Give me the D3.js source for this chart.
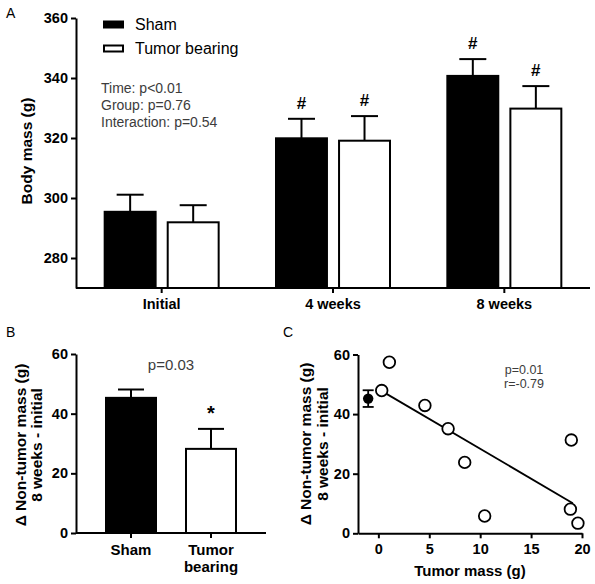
<!DOCTYPE html>
<html><head><meta charset="utf-8">
<script src="https://cdn.jsdelivr.net/npm/d3@7"></script>
<style>body{margin:0;background:#fff} svg{display:block;font-family:"Liberation Sans",Arial,sans-serif}</style>
</head><body><svg id="c" width="595" height="584"></svg>
<script>
// ---------- Data ----------
const timepoints = ["Initial", "4 weeks", "8 weeks"];
const groups = ["Sham", "Tumor bearing"];
const shamMass = [295.4, 319.9, 340.7];
const shamSEM = [5.7, 6.5, 5.6];
const tumorMass = [291.9, 319.1, 329.8];
const tumorSEM = [5.7, 8.2, 7.5];
const shamSig = ["", "#", "#"];
const tumorSig = ["", "#", "#"];
const massTicks = [280, 300, 320, 340, 360];
const statsLines = ["Time: p<0.01", "Group: p=0.76", "Interaction: p=0.54"];

const deltaGroups = ["Sham", "Tumor bearing"];
const deltaMean = [45.3, 28.2];
const deltaSEM = [2.8, 6.7];
const deltaSig = ["", "*"];
const deltaTicks = [0, 20, 40, 60];
const deltaP = "p=0.03";

const tumorMassX = [0.33, 1.08, 4.57, 6.85, 8.48, 10.44, 18.95, 18.86, 19.6];
const tumorDeltaY = [47.9, 57.4, 42.9, 35.1, 23.8, 5.8, 31.3, 8.1, 3.4];
const shamPointX = [-1];
const shamPointY = [45.2];
const shamPointSEM = [2.8];
const fitX = [0.3, 19.1];
const fitY = [47.8, 10.1];
const scatterXTicks = [0, 5, 10, 15, 20];
const scatterStats = ["p=0.01", "r=-0.79"];

// ---------- Setup ----------
const svg = d3.select("#c");
const FONT = "Liberation Sans, Arial, sans-serif";
const GRAY = "#3c3c3c";

function styleAxis(g, size) {
  g.attr("font-family", FONT).attr("font-size", size).attr("font-weight", "bold");
  g.select(".domain").attr("stroke", "#000").attr("stroke-width", 2);
  g.selectAll(".tick line").attr("stroke", "#000").attr("stroke-width", 2);
  g.selectAll(".tick text").attr("fill", "#000");
}

// ---------- Panel A ----------
const aL = 76, aR = 590, aT = 18, aB = 288;
const yA = d3.scaleLinear().domain([270, 360]).range([aB, aT]);
const x0A = d3.scaleBand().domain(timepoints).range([aL, aR]).paddingInner(0.323).paddingOuter(0.1615);
const x1A = d3.scaleBand().domain(groups).range([0, x0A.bandwidth()]).paddingInner(0.16);

const gA = svg.append("g");
const barsA = timepoints.map((t, i) => [
  {t, g: groups[0], v: shamMass[i], e: shamSEM[i], s: shamSig[i]},
  {t, g: groups[1], v: tumorMass[i], e: tumorSEM[i], s: tumorSig[i]}
]).flat();

barsA.forEach(d => {
  const cx = x0A(d.t) + x1A(d.g) + x1A.bandwidth() / 2;
  gA.append("line").attr("x1", cx).attr("x2", cx).attr("y1", yA(d.v)).attr("y2", yA(d.v + d.e))
    .attr("stroke", "#000").attr("stroke-width", 2);
  gA.append("line").attr("x1", cx - 13.5).attr("x2", cx + 13.5).attr("y1", yA(d.v + d.e)).attr("y2", yA(d.v + d.e))
    .attr("stroke", "#000").attr("stroke-width", 2);
  if (d.s) gA.append("text").attr("x", cx).attr("y", yA(d.v + d.e) - 10).attr("text-anchor", "middle")
    .attr("font-family", FONT).attr("font-size", 17).attr("font-weight", "bold").text(d.s);
});
gA.selectAll("rect.bar").data(barsA).join("rect")
  .attr("x", d => x0A(d.t) + x1A(d.g) + 1)
  .attr("y", d => yA(d.v))
  .attr("width", x1A.bandwidth() - 2)
  .attr("height", d => yA(270) - yA(d.v))
  .attr("fill", d => d.g === "Sham" ? "#000" : "#fff")
  .attr("stroke", "#000").attr("stroke-width", 2);

const axYA = gA.append("g").attr("transform", `translate(${aL},0)`)
  .call(d3.axisLeft(yA).tickValues(massTicks).tickSize(5).tickSizeOuter(0).tickPadding(3));
styleAxis(axYA, 14.5);
const axXA = gA.append("g").attr("transform", `translate(0,${aB})`)
  .call(d3.axisBottom(x0A).tickSize(5).tickSizeOuter(0).tickPadding(6));
axXA.select(".domain").attr("d", `M${aL},0H${aR}`);
styleAxis(axXA, 14.5);

gA.append("text").attr("transform", `translate(32,151) rotate(-90)`).attr("text-anchor", "middle")
  .attr("font-family", FONT).attr("font-size", 15.5).attr("font-weight", "bold").text("Body mass (g)");
svg.append("text").attr("x", 6).attr("y", 18).attr("font-family", FONT).attr("font-size", 14).text("A");

groups.forEach((g, i) => {
  const y = 20.5 + i * 24;
  gA.append("rect").attr("x", i ? 104 : 103).attr("y", i ? y + 1 : y).attr("width", i ? 19 : 21).attr("height", i ? 6 : 8)
    .attr("fill", i ? "#fff" : "#000").attr("stroke", i ? "#000" : "none").attr("stroke-width", 2);
  gA.append("text").attr("x", 135).attr("y", y + 9).attr("font-family", FONT).attr("font-size", 16).text(g);
});
statsLines.forEach((s, i) => {
  gA.append("text").attr("x", 101).attr("y", 93 + i * 17).attr("font-family", FONT).attr("font-size", 14)
    .attr("fill", GRAY).text(s);
});

// ---------- Panel B ----------
const bL = 76, bR = 266, bT = 354, bB = 533;
const yB = d3.scaleLinear().domain([0, 60]).range([bB, bT]);
const xB = d3.scaleBand().domain(deltaGroups).range([bL, bR]).paddingInner(0.35).paddingOuter(0.3625);
const gB = svg.append("g");
deltaGroups.forEach((g, i) => {
  const cx = xB(g) + xB.bandwidth() / 2;
  const top = yB(deltaMean[i] + deltaSEM[i]);
  gB.append("line").attr("x1", cx).attr("x2", cx).attr("y1", yB(deltaMean[i])).attr("y2", top).attr("stroke", "#000").attr("stroke-width", 2);
  gB.append("line").attr("x1", cx - 13).attr("x2", cx + 13).attr("y1", top).attr("y2", top).attr("stroke", "#000").attr("stroke-width", 2);
  if (deltaSig[i]) gB.append("text").attr("x", cx).attr("y", top - 9).attr("text-anchor", "middle")
    .attr("font-family", FONT).attr("font-size", 20).attr("font-weight", "bold").text(deltaSig[i]);
});
gB.selectAll("rect").data(deltaGroups).join("rect")
  .attr("x", d => xB(d) + 1).attr("y", (d, i) => yB(deltaMean[i]))
  .attr("width", xB.bandwidth() - 2).attr("height", (d, i) => yB(0) - yB(deltaMean[i]))
  .attr("fill", (d, i) => i ? "#fff" : "#000").attr("stroke", "#000").attr("stroke-width", 2);
const axYB = gB.append("g").attr("transform", `translate(${bL},0)`)
  .call(d3.axisLeft(yB).tickValues(deltaTicks).tickSize(5).tickSizeOuter(0).tickPadding(3));
styleAxis(axYB, 14.5);
const axXB = gB.append("g").attr("transform", `translate(0,${bB})`)
  .call(d3.axisBottom(xB).tickSize(5).tickSizeOuter(0).tickPadding(6));
axXB.select(".domain").attr("d", `M${bL},0H${bR}`);
styleAxis(axXB, 15);
axXB.selectAll(".tick text").each(function(d) {
  const t = d3.select(this); const parts = d.split(" ");
  t.text(null);
  parts.forEach((p, k) => t.append("tspan").attr("x", 0).attr("dy", k ? "1.15em" : "0.71em").text(p));
});
gB.append("text").attr("x", (xB("Sham") + xB("Tumor bearing") + xB.bandwidth()) / 2).attr("y", 370).attr("text-anchor", "middle")
  .attr("font-family", FONT).attr("font-size", 15).attr("fill", GRAY).text(deltaP);
const titleB = gB.append("text").attr("transform", `translate(26,445) rotate(-90)`).attr("text-anchor", "middle")
  .attr("font-family", FONT).attr("font-size", 15.5).attr("font-weight", "bold");
titleB.append("tspan").attr("x", 0).attr("dy", 0).text("\u0394 Non-tumor mass (g)");
titleB.append("tspan").attr("x", 0).attr("dy", 16).text("8 weeks - initial");
svg.append("text").attr("x", 6).attr("y", 337).attr("font-family", FONT).attr("font-size", 14).text("B");

// ---------- Panel C ----------
const cL = 358, cR = 582, cT = 354.5, cB = 533.3;
const yC = d3.scaleLinear().domain([0, 60]).range([cB, cT]);
const xC = d3.scaleLinear().domain([-2, 20]).range([cL, cR]);
const gC = svg.append("g");
const axYC = gC.append("g").attr("transform", `translate(${cL},0)`)
  .call(d3.axisLeft(yC).tickValues(deltaTicks).tickSize(5).tickSizeOuter(0).tickPadding(3));
styleAxis(axYC, 14.5);
const axXC = gC.append("g").attr("transform", `translate(0,${cB})`)
  .call(d3.axisBottom(xC).tickValues(scatterXTicks).tickSize(5).tickSizeOuter(0).tickPadding(5));
styleAxis(axXC, 14.5);
gC.append("line").attr("x1", xC(fitX[0])).attr("y1", yC(fitY[0])).attr("x2", xC(fitX[1])).attr("y2", yC(fitY[1]))
  .attr("stroke", "#000").attr("stroke-width", 1.8);
shamPointX.forEach((x, i) => {
  const cx = xC(x);
  gC.append("line").attr("x1", cx).attr("x2", cx).attr("y1", yC(shamPointY[i] - shamPointSEM[i])).attr("y2", yC(shamPointY[i] + shamPointSEM[i]))
    .attr("stroke", "#000").attr("stroke-width", 1.8);
  [-1, 1].forEach(s => gC.append("line").attr("x1", cx - 5.5).attr("x2", cx + 5.5)
    .attr("y1", yC(shamPointY[i] + s * shamPointSEM[i])).attr("y2", yC(shamPointY[i] + s * shamPointSEM[i]))
    .attr("stroke", "#000").attr("stroke-width", 1.8));
  gC.append("circle").attr("cx", cx).attr("cy", yC(shamPointY[i])).attr("r", 5.2).attr("fill", "#000");
});
gC.selectAll("circle.t").data(tumorMassX).join("circle").attr("class", "t")
  .attr("cx", d => xC(d)).attr("cy", (d, i) => yC(tumorDeltaY[i])).attr("r", 5.8)
  .attr("fill", "#fff").attr("stroke", "#000").attr("stroke-width", 1.8);
scatterStats.forEach((s, i) => gC.append("text").attr("x", 524).attr("y", 374 + i * 13.5).attr("text-anchor", "middle")
  .attr("font-family", FONT).attr("font-size", 12.5).attr("fill", GRAY).text(s));
gC.append("text").attr("x", (xC(-2) + xC(20)) / 2).attr("y", 576).attr("text-anchor", "middle")
  .attr("font-family", FONT).attr("font-size", 15).attr("font-weight", "bold").text("Tumor mass (g)");
const titleC = gC.append("text").attr("transform", `translate(311,444) rotate(-90)`).attr("text-anchor", "middle")
  .attr("font-family", FONT).attr("font-size", 15.5).attr("font-weight", "bold");
titleC.append("tspan").attr("x", 0).attr("dy", 0).text("\u0394 Non-tumor mass (g)");
titleC.append("tspan").attr("x", 0).attr("dy", 17).text("8 weeks - initial");
svg.append("text").attr("x", 283).attr("y", 337).attr("font-family", FONT).attr("font-size", 14).text("C");
</script></body></html>
